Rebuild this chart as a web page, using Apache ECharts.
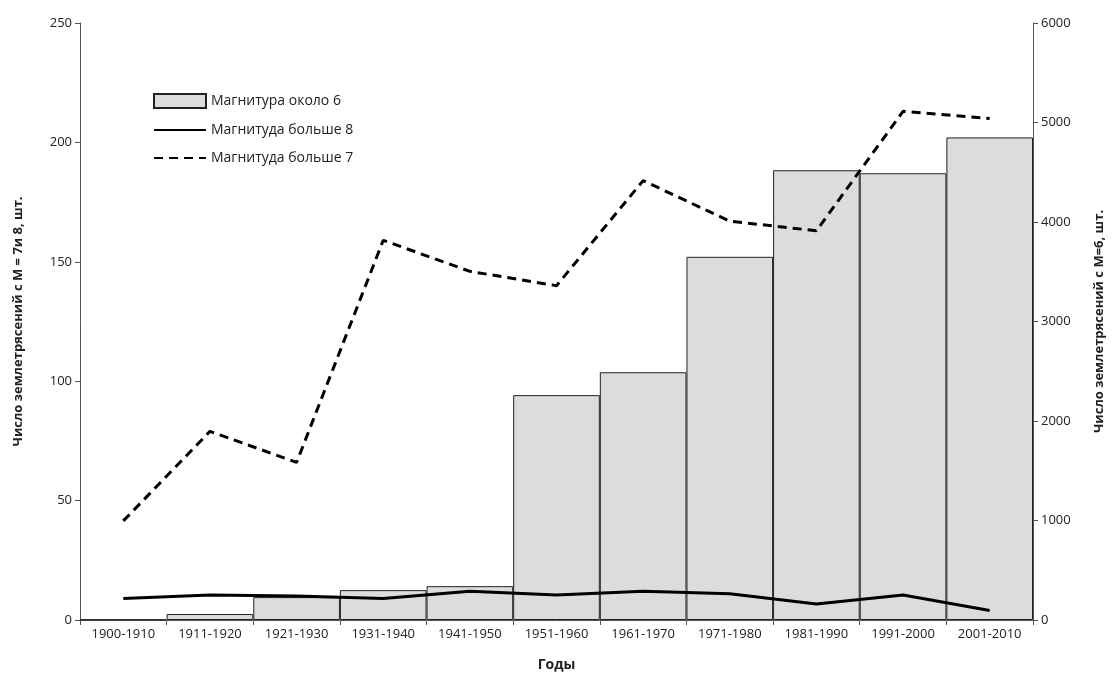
<!DOCTYPE html>
<html><head><meta charset="utf-8">
<script src="https://cdn.jsdelivr.net/npm/echarts@6/dist/echarts.min.js"></script>
<style>html,body{margin:0;background:#fff}#c{width:1115px;height:682px}</style>
</head><body><div id="c"></div>
<script>
var categories=['1900-1910','1911-1920','1921-1930','1931-1940','1941-1950','1951-1960','1961-1970','1971-1980','1981-1990','1991-2000','2001-2010'];
var mag6=[5,60,230,300,340,2260,2490,3650,4520,4490,4850];
var mag8=[9,10.5,10,9,12,10.5,12,11,6.7,10.5,4];
var mag7=[41.5,79,66,159,146,140,184,167,163,213,210];
var leftTicks=[0,50,100,150,200,250];
var rightTicks=[0,1000,2000,3000,4000,5000,6000];
var font='"Open Sans", "DejaVu Sans", sans-serif';
var chart=echarts.init(document.getElementById('c'));
chart.setOption({
 animation:false,
 textStyle:{fontFamily:font,color:'#222'},
 grid:{left:80,right:82,top:23,bottom:62},
 legend:{left:148,top:88,orient:'vertical',itemGap:14,itemWidth:52,itemHeight:14,
   textStyle:{fontSize:14,color:'#222'},
   data:[{name:'Магнитура около 6',icon:'rect'},
         {name:'Магнитуда больше 8',itemStyle:{opacity:0}},
         {name:'Магнитуда больше 7',itemStyle:{opacity:0}}]},
 xAxis:{type:'category',data:categories,name:'Годы',nameLocation:'middle',nameGap:38,
   nameTextStyle:{fontWeight:'bold',fontSize:14},
   axisLine:{lineStyle:{color:'#555'}},axisTick:{show:true,lineStyle:{color:'#555'}},
   axisLabel:{fontSize:13,color:'#222',interval:0}},
 yAxis:[
  {type:'value',min:0,max:250,interval:50,name:'Число землетрясений с М = 7и 8, шт.',nameLocation:'middle',nameGap:55,
   nameTextStyle:{fontWeight:'bold',fontSize:13},splitLine:{show:false},
   axisLine:{show:true,lineStyle:{color:'#555'}},axisTick:{show:true},axisLabel:{fontSize:13,color:'#222'}},
  {type:'value',min:0,max:6000,interval:1000,name:'Число землетрясений с М=6, шт.',nameLocation:'middle',nameGap:60,
   nameTextStyle:{fontWeight:'bold',fontSize:13},splitLine:{show:false},
   axisLine:{show:true,lineStyle:{color:'#555'}},axisTick:{show:true},
   axisLabel:{fontSize:13,color:'#222',formatter:function(v){return String(v);}}}
 ],
 series:[
  {name:'Магнитура около 6',type:'bar',yAxisIndex:1,data:mag6,barCategoryGap:'0%',
   itemStyle:{color:'#dcdcdc',borderColor:'#222',borderWidth:1}},
  {name:'Магнитуда больше 8',type:'line',data:mag8,symbol:'none',lineStyle:{color:'#000',width:3},itemStyle:{color:'#000'}},
  {name:'Магнитуда больше 7',type:'line',data:mag7,symbol:'none',lineStyle:{color:'#000',width:3,type:[9,6]},itemStyle:{color:'#000'}}
 ]
});
</script></body></html>
